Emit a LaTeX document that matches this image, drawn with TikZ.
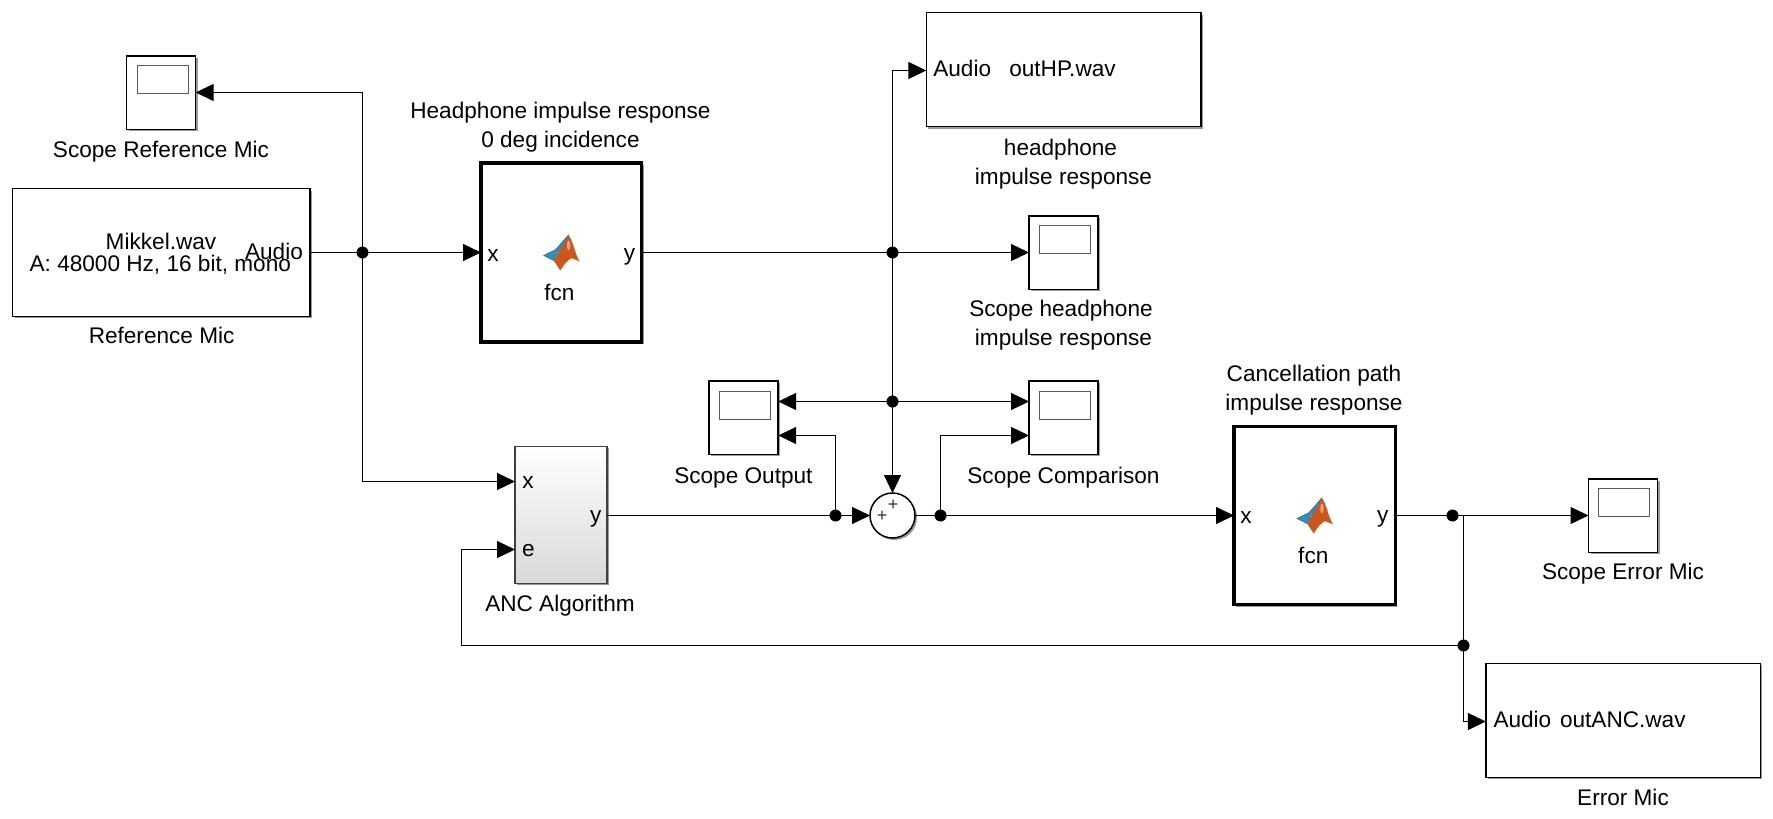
\documentclass[tikz,border=0pt]{standalone}
\usepackage{fontspec}
\setmainfont{Liberation Sans}
\usetikzlibrary{arrows.meta,shadows}
\definecolor{logoorange}{HTML}{C9581F}
\definecolor{logoblue}{HTML}{2F8FC6}
\definecolor{logodark}{HTML}{1B6A9C}
\definecolor{logolight}{HTML}{EFA27A}
\tikzset{
  x=1pt,y=-1pt,
  >={Triangle[length=18pt,width=17pt]},
  wire/.style={line width=1.25pt,black},
  softshadow/.style={drop shadow={shadow xshift=2pt,shadow yshift=-2pt,fill=black,opacity=.4}},
  blockbox/.style={draw=black,line width=1.5pt,fill=white,inner sep=0pt,outer sep=0pt,softshadow},
  scopebox/.style={blockbox,minimum width=69pt,minimum height=73.5pt},
  screenbox/.style={draw=black!65,line width=1.2pt,fill=white,inner sep=0pt,outer sep=0pt,minimum width=51pt,minimum height=28pt},
  fcnbox/.style={blockbox,line width=3.4pt},
  ancbox/.style={draw=black!75,line width=1.5pt,inner sep=0pt,outer sep=0pt,minimum width=91.8pt,minimum height=137pt,top color=white,middle color=white,bottom color=black!15,softshadow},
  sumbox/.style={circle,blockbox,minimum size=45pt},
  dotnode/.style={circle,fill=black,inner sep=0pt,outer sep=0pt,minimum size=12pt},
  txt/.style={inner sep=0pt,outer sep=0pt,font=\fontsize{22.6}{29}\selectfont,align=center,text=black},
  smalltxt/.style={inner sep=0pt,outer sep=0pt,font=\fontsize{18}{18}\selectfont,text=black!80},
  matlablogo/.pic={
    \fill[logoblue,draw=logodark,line width=.5pt,line join=round] (-18,3) -- (-6.3,-2.7) -- (7,-17.7) -- (2,-8.7) -- (-4.7,-.3) -- (-8,8) -- cycle;
    \fill[logoorange] (7,-17.7) .. controls (12,-10) and (13,1) .. (18,8.7) .. controls (15,7.5) and (12,6.5) .. (10,5.7) .. controls (7,6.5) and (2,12) .. (-1.3,18) -- (-8,8) .. controls (-6,3) and (-2,-4) .. (2,-8.7) -- cycle;
    \fill[logolight] (7,-7) ellipse [x radius=1.7,y radius=5];
  }
}
\begin{document}
\begin{tikzpicture}
\useasboundingbox (0,0) rectangle (1773,819);

% blocks
\node[scopebox] (scopeRef) at (161.15,92.5) {};
\node[screenbox] (scrRef) at (162.75,79.5) {};
\node[blockbox,minimum width=297.5pt,minimum height=127.7pt] (src) at (161.25,252.5) {};
\node[fcnbox,minimum width=160.5pt,minimum height=178.7pt] (fcnA) at (561.25,252.5) {};
\node[blockbox,minimum width=274.7pt,minimum height=114pt] (hpbox) at (1063.65,69.7) {};
\node[scopebox] (scopeHP) at (1063.5,252.5) {};
\node[screenbox] (scrHP) at (1064.8,239.5) {};
\node[scopebox] (scopeOut) at (743.7,417.5) {};
\node[screenbox] (scrOut) at (745,405.5) {};
\node[scopebox] (scopeCmp) at (1063.5,417.5) {};
\node[screenbox] (scrCmp) at (1064.8,405.5) {};
\node[ancbox] (anc) at (560.9,514.8) {};
\node[sumbox] (sum) at (892.5,515.5) {};
\node[fcnbox,minimum width=161.2pt,minimum height=178.3pt] (fcnB) at (1314.6,515.5) {};
\node[scopebox] (scopeErr) at (1623,515.5) {};
\node[screenbox] (scrErr) at (1623.8,502.5) {};
\node[blockbox,minimum width=274.5pt,minimum height=114pt] (errbox) at (1623,720.3) {};

% junctions and ports
\node[dotnode] (jA) at (362.5,252.5) {};
\node[dotnode] (jB) at (892.5,252.5) {};
\node[dotnode] (jC) at (892.5,401.5) {};
\node[dotnode] (jD) at (835.5,515.5) {};
\node[dotnode] (jE) at (940.5,515.5) {};
\node[dotnode] (jF) at (1452.5,515.5) {};
\node[dotnode] (jG) at (1463.5,645.5) {};
\coordinate (tee) at (1463.5,515.5);
\coordinate (fbk) at (461.5,645.5);
\coordinate (ancx) at (515,481.5);
\coordinate (ance) at (515,549.5);
\coordinate (ancy) at (606.8,515.5);
\coordinate (hpin) at (926.3,70.5);
\coordinate (outA) at (778.2,401.5);
\coordinate (outB) at (778.2,435.5);
\coordinate (cmpA) at (1029,401.5);
\coordinate (cmpB) at (1029,435.5);
\coordinate (errin) at (1485.8,721.5);

% connectors
\draw[wire] (src.east) -- (jA.center);
\draw[wire,->] (jA.center) -- (fcnA.west);
\draw[wire,->] (jA.center) |- (scopeRef.east);
\draw[wire,->] (jA.center) |- (ancx);
\draw[wire] (fcnA.east) -- (jB.center);
\draw[wire,->] (jB.center) -- (scopeHP.west);
\draw[wire,->] (jB.center) |- (hpin);
\draw[wire] (jB.center) -- (jC.center);
\draw[wire,->] (jC.center) -- (sum.north);
\draw[wire,->] (jC.center) -- (outA);
\draw[wire,->] (jC.center) -- (cmpA);
\draw[wire] (ancy) -- (jD.center);
\draw[wire,->] (jD.center) -- (sum.west);
\draw[wire,->] (jD.center) |- (outB);
\draw[wire] (sum.east) -- (jE.center);
\draw[wire,->] (jE.center) -- (fcnB.west);
\draw[wire,->] (jE.center) |- (cmpB);
\draw[wire] (fcnB.east) -- (jF.center) -- (tee);
\draw[wire,->] (tee) -- (scopeErr.west);
\draw[wire] (tee) -- (jG.center);
\draw[wire,->] (jG.center) |- (errin);
\draw[wire] (jG.center) -- (fbk);
\draw[wire,->] (fbk) |- (ance);

% texts
\node[txt] (tScopeRef) at (161,151.3) {Scope Reference Mic};
\node[txt] (tMik) at (161,241.7) {Mikkel.wav};
\node[txt] (tMikB) at (160.3,264.3) {A: 48000 Hz, 16 bit, mono};
\node[txt] (tAudioA) at (274,251.7) {Audio};
\node[txt] (tRefMic) at (161.6,335.3) {Reference Mic};
\node[txt] (tHeadA) at (560.5,127) {Headphone impulse response\\0 deg incidence};
\node[txt] (txA) at (493,256) {x};
\node[txt] (tyA) at (629.5,257) {y};
\pic at (561.6,252.5) {matlablogo};
\node[txt] (tfcnA) at (559.4,292.3) {fcn};
\node[txt,anchor=west] (tAudioB) at (933.3,68.5) {Audio};
\node[txt,anchor=west] (tHP) at (1009.3,68.5) {outHP.wav};
\node[txt] (tHPlbl) at (1063.5,164.3) {headphone\hspace*{6pt}\\impulse response};
\node[txt] (tScopeHP) at (1061,325) {Scope headphone\\\hspace*{5pt}impulse response};
\node[txt] (tScopeOut) at (743.4,477.7) {Scope Output};
\node[txt] (tScopeCmp) at (1063.5,477.7) {Scope Comparison};
\node[txt] (txB) at (528,483) {x};
\node[txt] (teB) at (528.5,551) {e};
\node[txt] (tyB) at (595.7,518.5) {y};
\node[txt] (tAnc) at (560,606) {ANC Algorithm};
\node[smalltxt] (plusA) at (893.2,505) {+};
\node[smalltxt] (plusB) at (882,516.7) {+};
\node[txt] (tCancel) at (1314,390) {Cancellation path\\impulse response};
\node[txt] (txC) at (1246,517.7) {x};
\node[txt] (tyC) at (1382.7,519) {y};
\pic at (1315,515.5) {matlablogo};
\node[txt] (tfcnB) at (1313.3,555) {fcn};
\node[txt] (tScopeErr) at (1623,573.3) {Scope Error Mic};
\node[txt,anchor=west] (tAudioC) at (1493.5,719.5) {Audio};
\node[txt,anchor=west] (tANC) at (1560,719.5) {outANC.wav};
\node[txt] (tErrMic) at (1623,797.3) {Error Mic};
\end{tikzpicture}
\end{document}
